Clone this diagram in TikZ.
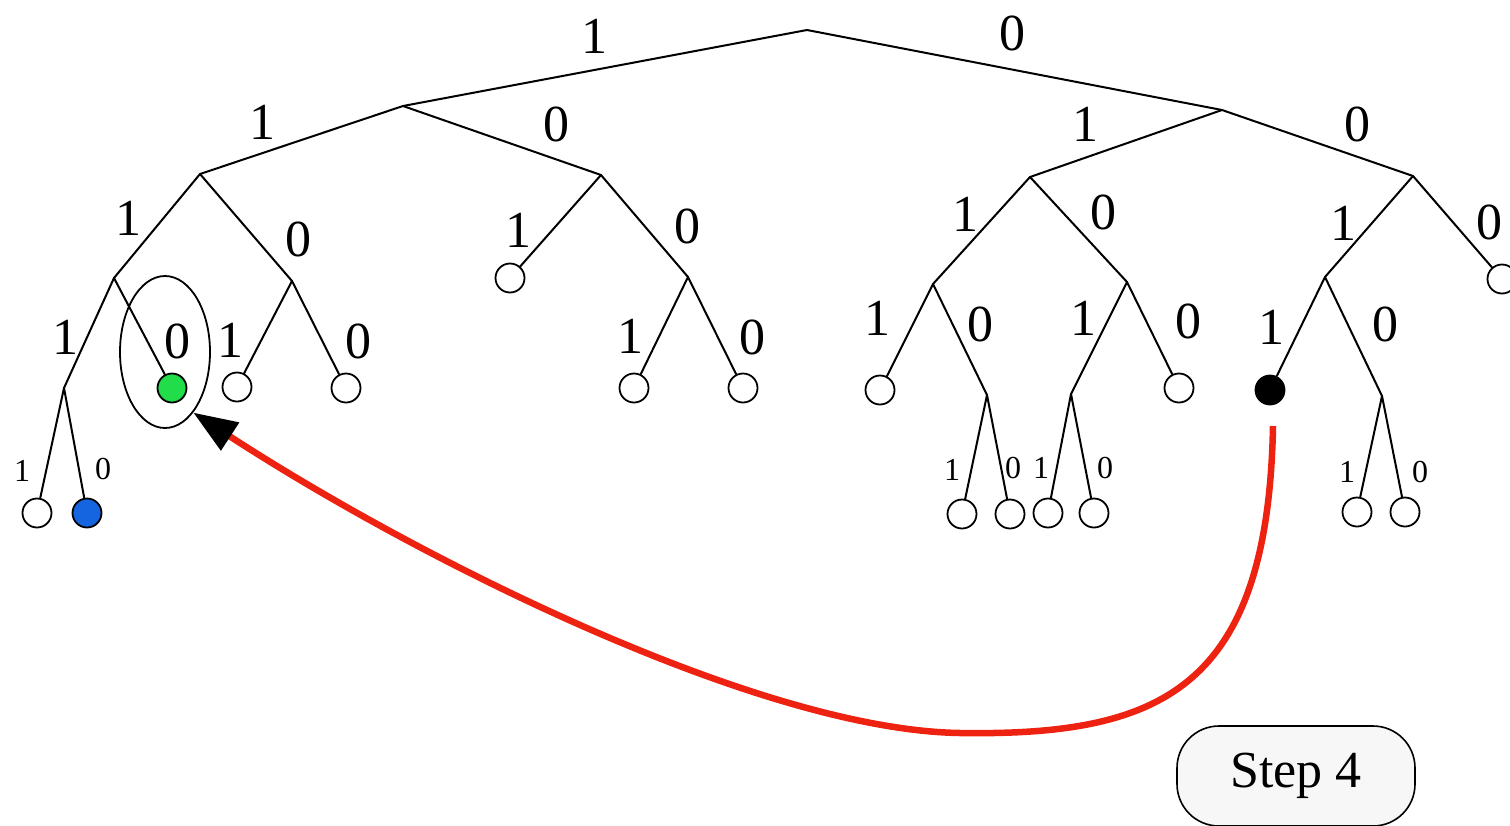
\documentclass[tikz,border=0pt]{standalone}
\usepackage{fontspec}
\setmainfont{Liberation Serif}
\usepackage{tikz}
\usetikzlibrary{arrows.meta,positioning,shapes.geometric}
\definecolor{TGreen}{HTML}{22DD4A}
\definecolor{TBlue}{HTML}{1565E0}
\definecolor{TRed}{HTML}{EE2211}
\definecolor{TBox}{HTML}{F7F7F7}

\begin{document}
\begin{tikzpicture}[x=1pt,y=-1pt,
  fork/.style={coordinate},
  leaf/.style={circle,draw,line width=1.8pt,minimum size=29pt,inner sep=0pt,fill=white},
  bit/.style={font=\fontsize{52}{60}\selectfont,inner sep=0pt},
  smallbit/.style={font=\fontsize{32}{38}\selectfont,inner sep=0pt},
  edge/.style={line width=2pt,line cap=round,line join=round},
  stepbox/.style={draw,line width=1.6pt,fill=TBox,rounded corners=42pt,minimum width=238pt,minimum height=100pt,font=\fontsize{52}{60}\selectfont}]
  \useasboundingbox (0,0) rectangle (1510,825);
  % inner forks
  \node[fork] (n) at (807,30) {};
  \node[fork] (n1) at (403,106) {};
  \node[fork] (n0) at (1222,110) {};
  \node[fork] (n11) at (200,174) {};
  \node[fork] (n10) at (601,175) {};
  \node[fork] (n01) at (1030,177) {};
  \node[fork] (n00) at (1413,176) {};
  \node[fork] (n111) at (114,278) {};
  \node[fork] (n110) at (292,281) {};
  \node[fork] (n100) at (688,277) {};
  \node[fork] (n011) at (933,284) {};
  \node[fork] (n010) at (1127,282) {};
  \node[fork] (n001) at (1325,277) {};
  \node[fork] (n1111) at (64,388) {};
  \node[fork] (n0110) at (987,395) {};
  \node[fork] (n0101) at (1071,394) {};
  \node[fork] (n0010) at (1382,396) {};
  % leaves
  \node[leaf] (n101) at (510,278) {};
  \node[leaf] (n000) at (1502,279) {};
  \node[leaf,fill=TGreen] (n1110) at (172,388) {};
  \node[leaf] (n1101) at (237,387) {};
  \node[leaf] (n1100) at (346,388) {};
  \node[leaf] (n1001) at (634,388) {};
  \node[leaf] (n1000) at (743,388) {};
  \node[leaf] (n0111) at (880,390) {};
  \node[leaf] (n0100) at (1179,388) {};
  \node[leaf,fill=black] (n0011) at (1270,390) {};
  \node[leaf] (n11111) at (37,513) {};
  \node[leaf,fill=TBlue] (n11110) at (87,513) {};
  \node[leaf] (n01101) at (962,514) {};
  \node[leaf] (n01100) at (1010,514) {};
  \node[leaf] (n01011) at (1048,513) {};
  \node[leaf] (n01010) at (1094,513) {};
  \node[leaf] (n00101) at (1357,512) {};
  \node[leaf] (n00100) at (1405,512) {};
  % branches
  \foreach \a/\b in {n/n1,n/n0,n1/n11,n1/n10,n0/n01,n0/n00,n11/n111,n11/n110,
      n10/n101,n10/n100,n01/n011,n01/n010,n00/n001,n00/n000,
      n111/n1111,n111/n1110,n110/n1101,n110/n1100,n100/n1001,n100/n1000,
      n011/n0111,n011/n0110,n010/n0101,n010/n0100,n001/n0011,n001/n0010,
      n1111/n11111,n1111/n11110,n0110/n01101,n0110/n01100,
      n0101/n01011,n0101/n01010,n0010/n00101,n0010/n00100}
    \draw[edge] (\a) -- (\b);
  % bits on the branches
  \foreach \nm/\x/\y/\t in {a/594/36/1,b/1012/33/0,c/262/122/1,d/556/124/0,
      e/1085/124/1,f/1357/124/0,g/128/218/1,h/298/239/0,i/518/230/1,j/687/226/0,
      k/965/214/1,l/1103/212/0,m/1343/223/1,o/1489/222/0,
      p/65/337/1,q/177/341/0,r/230/340/1,s/358/341/0,t/630/336/1,u/752/337/0,
      v/877/318/1,w/980/324/0,x/1083/318/1,y/1188/321/0,z/1271/327/1,zz/1385/324/0}
    \node[bit] (l\nm) at (\x,\y) {\t};
  \foreach \nm/\x/\y/\t in {a/22/471/1,b/103/469/0,c/952/470/1,d/1013/468/0,
      e/1041/468/1,f/1105/468/0,g/1347/472/1,h/1420/472/0}
    \node[smallbit] (s\nm) at (\x,\y) {\t};
  % selected leaf and jump
  \node[ellipse,draw,line width=1.8pt,minimum width=90pt,minimum height=152pt,inner sep=0pt] (sel) at (165,352) {};
  \coordinate (astart) at (1273,426);
  \coordinate (abot) at (960,733);
  \draw[TRed,line width=6.5pt,-{Triangle[black,length=44pt,width=32pt]}]
    (astart) .. controls (1268,690) and (1160,736) .. (abot)
    .. controls (760,730) and (420,560) .. (sel.-65);
  \node[stepbox] (step) at (1296,776) {Step 4};
\end{tikzpicture}
\end{document}
